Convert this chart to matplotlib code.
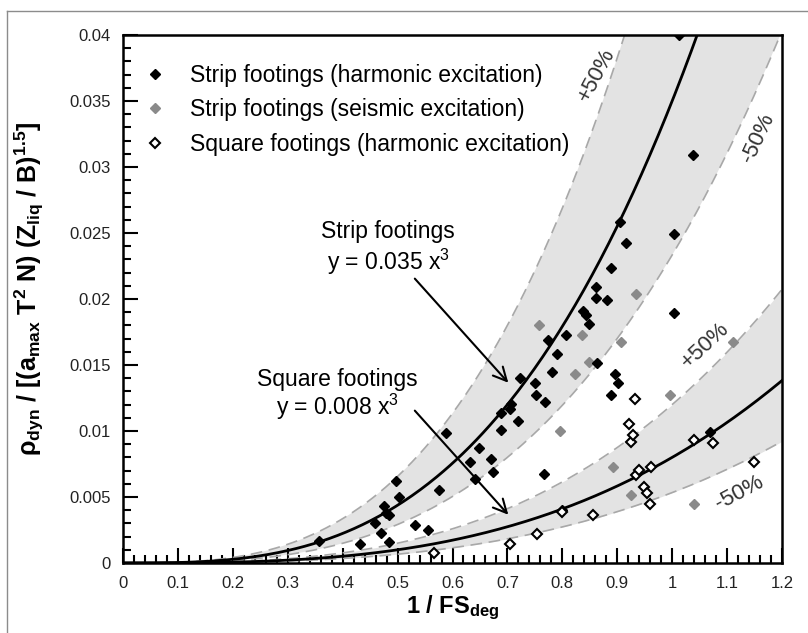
import numpy as np
import matplotlib
matplotlib.use("Agg")
import matplotlib.pyplot as plt
from matplotlib.lines import Line2D

plt.rcParams['font.family'] = ['Liberation Sans', 'DejaVu Sans']
plt.rcParams['mathtext.fontset'] = 'custom'
plt.rcParams['mathtext.rm'] = 'Liberation Sans'
plt.rcParams['mathtext.it'] = 'Liberation Sans'
plt.rcParams['mathtext.bf'] = 'Liberation Sans:bold'

# ---- data ----
strip_harm_x = [0.357, 0.432, 0.459, 0.470, 0.476, 0.485, 0.485, 0.478, 0.498, 0.503,
                0.531, 0.556, 0.576, 0.589, 0.632, 0.641, 0.648, 0.670, 0.673, 0.688,
                0.688, 0.704, 0.706, 0.719, 0.723, 0.750, 0.752, 0.769, 0.767, 0.773,
                0.782, 0.791, 0.800, 0.806, 0.837, 0.843, 0.849, 0.861, 0.861, 0.864,
                0.882, 0.889, 0.889, 0.896, 0.901, 0.905, 0.916, 1.003, 1.003, 1.013,
                1.038, 1.069]
strip_harm_y = [0.00167, 0.00141, 0.00301, 0.00225, 0.00434, 0.00364, 0.00162, 0.0038, 0.00624, 0.00503,
                0.00288, 0.00250, 0.00553, 0.00987, 0.00768, 0.00636, 0.00869, 0.00788, 0.00692, 0.01134,
                0.01008, 0.01164, 0.01202, 0.01076, 0.01399, 0.01366, 0.01273, 0.01217, 0.00672, 0.01690,
                0.01445, 0.01582, 0.00400, 0.01727, 0.01910, 0.01879, 0.01811, 0.02090, 0.02005, 0.01515,
                0.01992, 0.02232, 0.01273, 0.01430, 0.01361, 0.02586, 0.02422, 0.02490, 0.01896, 0.04000,
                0.03090, 0.00995]

strip_seis_x = [0.758, 0.795, 0.823, 0.835, 0.849, 0.892, 0.907, 0.925, 0.934, 0.996, 1.039, 1.110]
strip_seis_y = [0.01803, 0.01002, 0.01432, 0.01727, 0.01520, 0.00730, 0.01677, 0.00515, 0.02035, 0.01270, 0.00447, 0.01677]

square_harm_x = [0.566, 0.704, 0.754, 0.800, 0.855, 0.922, 0.925, 0.929, 0.932, 0.934,
                 0.940, 0.949, 0.954, 0.959, 0.961, 1.039, 1.075, 1.149]
square_harm_y = [0.00073, 0.00142, 0.00220, 0.00389, 0.00362, 0.01053, 0.00919, 0.00970, 0.01242, 0.00667,
                 0.00705, 0.00573, 0.00528, 0.00447, 0.00730, 0.00932, 0.00911, 0.00768]

strip_coef = 0.035
square_coef = 0.008
band_factor = 1.5

x_ticks = [0, 0.1, 0.2, 0.3, 0.4, 0.5, 0.6, 0.7, 0.8, 0.9, 1.0, 1.1, 1.2]
x_tick_labels = ['0', '0.1', '0.2', '0.3', '0.4', '0.5', '0.6', '0.7', '0.8', '0.9', '1', '1.1', '1.2']
y_ticks = [0, 0.005, 0.01, 0.015, 0.02, 0.025, 0.03, 0.035, 0.04]
y_tick_labels = ['0', '0.005', '0.01', '0.015', '0.02', '0.025', '0.03', '0.035', '0.04']

# ---- figure ----
fig = plt.figure(figsize=(8.08, 6.33), dpi=100)
ax = fig.add_axes([123/808, 1-563/633, (782-123)/808, (563-35)/633])

xc = np.linspace(0, 1.2, 400)
band_col = '#e3e3e3'
dash_col = '#a8a8a8'
for c in (strip_coef, square_coef):
    hi = c * band_factor * xc**3
    lo = c / band_factor * xc**3
    ax.fill_between(xc, lo, hi, color=band_col, lw=0, zorder=1)
    ax.plot(xc, hi, color=dash_col, lw=1.2, ls=(0, (7, 4)), zorder=2)
    ax.plot(xc, lo, color=dash_col, lw=1.2, ls=(0, (7, 4)), zorder=2)
    ax.plot(xc, c * xc**3, color='black', lw=2, zorder=3)

ax.plot(strip_harm_x, strip_harm_y, 'D', ms=5.6, mfc='black', mec='black', mew=1,
        ls='none', zorder=5, label='Strip footings (harmonic excitation)')
ax.plot(strip_seis_x, strip_seis_y, 'D', ms=5.6, mfc='#8a8a8a', mec='#8a8a8a', mew=1,
        ls='none', zorder=4, label='Strip footings (seismic excitation)')
ax.plot(square_harm_x, square_harm_y, 'D', ms=4.8, mfc='white', mec='black', mew=1.5,
        ls='none', zorder=6, label='Square footings (harmonic excitation)')

ax.set_xlim(0, 1.2)
ax.set_ylim(0, 0.04)
ax.set_xticks(x_ticks)
ax.set_xticklabels(x_tick_labels)
ax.set_yticks(y_ticks)
ax.set_yticklabels(y_tick_labels)
ax.set_xticks(np.arange(0, 1.2001, 0.02), minor=True)
ax.set_yticks(np.arange(0, 0.04001, 0.001), minor=True)
ax.tick_params(which='major', direction='in', length=11, width=1.5, labelsize=12,
               pad=9, colors='black', labelcolor='#222222')
ax.tick_params(which='minor', direction='in', length=6, width=1.5)
ax.tick_params(top=False, right=False, which='both')
for s in ax.spines.values():
    s.set_linewidth(1.8)

ax.set_xlabel(r'$\mathbf{1\ /\ FS_{deg}}$', fontsize=17, labelpad=2)
ax.set_ylabel(r'$\mathbf{\rho_{dyn}\ /\ [(a_{max}\ T^2\ N)\ (Z_{liq}\ /\ B)^{1.5}]}$',
              fontsize=18)
ax.yaxis.set_label_coords(-0.117, 0.52)

leg = ax.legend(loc='upper left', bbox_to_anchor=(-0.004, 0.984), frameon=False,
                fontsize=16.5, handlelength=1.2, handletextpad=0.94, labelspacing=0.49,
                borderaxespad=0.5)

txt_fs = 16.5
ax.text(0.483, 0.0251, 'Strip footings', ha='center', va='center', fontsize=txt_fs)
ax.text(0.483, 0.0228, r'y = 0.035 x$^3$', ha='center', va='center', fontsize=txt_fs)
ax.annotate('', xy=(0.705, 0.0135), xytext=(0.528, 0.0217),
            arrowprops=dict(arrowstyle='->', lw=1.5, color='black', mutation_scale=24))

ax.text(0.39, 0.0139, 'Square footings', ha='center', va='center', fontsize=txt_fs)
ax.text(0.39, 0.0118, r'y = 0.008 x$^3$', ha='center', va='center', fontsize=txt_fs)
ax.annotate('', xy=(0.705, 0.0035), xytext=(0.528, 0.0117),
            arrowprops=dict(arrowstyle='->', lw=1.5, color='black', mutation_scale=24))

lab_col = '#333333'
ax.text(0.863, 0.0370, '+50%', rotation=62, ha='center', va='center', fontsize=16, color=lab_col)
ax.text(1.156, 0.0322, '-50%', rotation=65, ha='center', va='center', fontsize=16, color=lab_col)
ax.text(1.060, 0.0165, '+50%', rotation=43, ha='center', va='center', fontsize=16, color=lab_col)
ax.text(1.123, 0.0053, '-50%', rotation=28, ha='center', va='center', fontsize=16, color=lab_col)

# outer frame lines (top and left)
fig.add_artist(Line2D([7/808, 1], [1-11/633, 1-11/633], color='#8c8c8c', lw=1))
fig.add_artist(Line2D([7/808, 7/808], [0, 1-11/633], color='#8c8c8c', lw=1))

fig.savefig('out.png', dpi=100)
